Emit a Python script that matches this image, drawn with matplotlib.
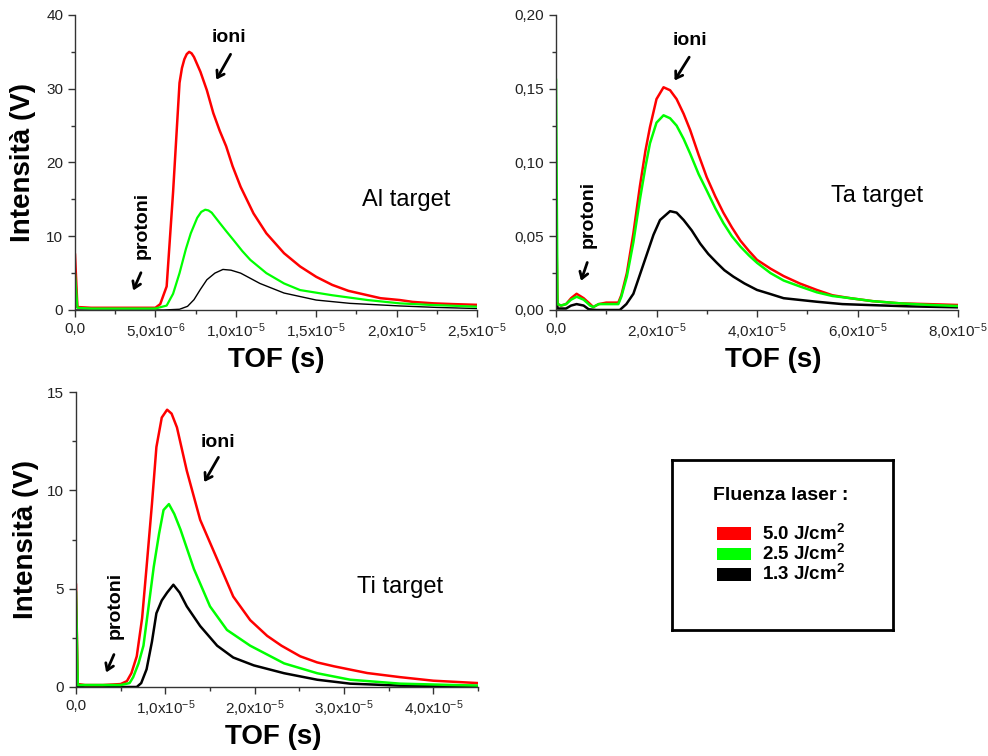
import numpy as np
import matplotlib
matplotlib.use('Agg')
import matplotlib.pyplot as plt
from matplotlib.patches import Rectangle

plt.rcParams['font.family'] = ['Liberation Sans', 'DejaVu Sans']
plt.rcParams['mathtext.fontset'] = 'custom'
plt.rcParams['mathtext.rm'] = 'Liberation Sans'
plt.rcParams['mathtext.bf'] = 'Liberation Sans:bold'
plt.rcParams['mathtext.default'] = 'regular'

# tempi in microsecondi, intensità in V

# --- Al target ---
al_red_t = [0, 0.15, 1, 2, 3, 4, 5.0, 5.3, 5.7, 6.1, 6.5, 6.65, 6.8, 6.95, 7.1, 7.25, 7.4, 7.8, 8.2, 8.6, 9.0,
            9.4, 9.8, 10.3, 11.1, 11.9, 13.0, 14.0, 15.0, 16.0, 17.0, 18.2, 19.0, 20.2, 21.0, 22.3, 23.5, 25.0]
al_red_v = [7.5, 0.4, 0.3, 0.3, 0.3, 0.3, 0.3, 0.8, 3.2, 16, 30.8, 32.8, 34, 34.7, 35, 34.8, 34.3, 32.3, 29.8,
            26.7, 24.3, 22.2, 19.5, 16.7, 13.1, 10.4, 7.7, 5.9, 4.5, 3.4, 2.6, 2.0, 1.6, 1.35, 1.1, 0.9, 0.8, 0.7]
al_green_t = [0, 0.15, 1, 3, 5.0, 5.7, 6.1, 6.5, 6.9, 7.2, 7.6, 7.85, 8.1, 8.3, 8.5, 9.0, 9.4, 9.85, 10.4, 10.9,
              11.9, 13.0, 14.0, 16.0, 18.2, 20.2, 22.0, 25.0]
al_green_v = [5, 0.3, 0.2, 0.2, 0.2, 0.6, 2.2, 5, 8.3, 10.4, 12.5, 13.3, 13.6, 13.5, 13.2, 11.8, 10.7, 9.5, 8.0,
              6.8, 5.0, 3.6, 2.7, 2.0, 1.35, 0.9, 0.7, 0.45]
al_black_t = [0, 5.5, 6.5, 7.0, 7.4, 7.8, 8.2, 8.7, 9.2, 9.7, 10.3, 11.5, 13.0, 15.0, 17.1, 20.2, 22.5, 25.0]
al_black_v = [0, 0, 0.1, 0.5, 1.4, 2.8, 4.1, 5.0, 5.5, 5.4, 5.0, 3.6, 2.3, 1.35, 0.9, 0.55, 0.35, 0.2]

# --- Ta target ---
ta_t = [0, 0.3, 1, 2, 3, 4.1, 5.5, 6.8, 7.4, 8.5, 10, 12.4, 13.0, 14.1, 15.4, 16.7, 17.8, 18.7, 20.0, 21.4,
        22.7, 24.0, 25.4, 26.7, 28.4, 30.0, 31.7, 33.3, 35.0, 36.7, 38.4, 40.0, 42.7, 45.3, 48.5, 51.9,
        55, 58.6, 63, 68.5, 74, 80]
ta_red_v = [0.07, 0.004, 0.003, 0.004, 0.008, 0.011, 0.008, 0.004, 0.002, 0.004, 0.005, 0.005, 0.01, 0.025,
            0.052, 0.084, 0.108, 0.124, 0.143, 0.151, 0.149, 0.143, 0.133, 0.122, 0.105, 0.09, 0.077, 0.066,
            0.056, 0.047, 0.040, 0.034, 0.028, 0.023, 0.018, 0.0136, 0.010, 0.008, 0.006, 0.0045, 0.004, 0.0034]
ta_green_v = [0.156, 0.004, 0.003, 0.004, 0.007, 0.009, 0.007, 0.003, 0.002, 0.004, 0.004, 0.004, 0.009, 0.0226,
              0.046, 0.075, 0.097, 0.113, 0.127, 0.132, 0.130, 0.125, 0.116, 0.106, 0.092, 0.081, 0.069, 0.059,
              0.050, 0.043, 0.037, 0.032, 0.025, 0.020, 0.016, 0.012, 0.0095, 0.008, 0.006, 0.0045, 0.0035, 0.0027]
ta_black_t = [0, 0.3, 2, 3, 4.1, 5.5, 6.5, 8, 12.7, 14.0, 15.4, 16.7, 18.1, 19.4, 20.7, 22.7, 24.0, 25.4, 27.0,
              28.7, 30.3, 32.0, 33.5, 35.3, 37.5, 40.0, 42.5, 45.3, 51.9, 57, 62, 70, 80]
ta_black_v = [0.02, 0.001, 0.001, 0.003, 0.004, 0.003, 0.0005, 0, 0, 0.004, 0.011, 0.024, 0.038, 0.051, 0.061,
              0.067, 0.066, 0.061, 0.054, 0.045, 0.038, 0.032, 0.027, 0.0226, 0.018, 0.0136, 0.011, 0.008,
              0.0056, 0.004, 0.0034, 0.0025, 0.0018]

# --- Ti target ---
ti_red_t = [0, 0.2, 1, 3, 5, 5.7, 6.2, 6.8, 7.4, 7.9, 8.5, 9.0, 9.6, 10.2, 10.7, 11.3, 12.4, 13.9, 15.8, 17.6,
            19.5, 21.4, 23.0, 25.1, 27.0, 28.9, 32.6, 36.3, 40.0, 45.0]
ti_red_v = [5.2, 0.15, 0.1, 0.1, 0.15, 0.3, 0.7, 1.56, 3.5, 6.1, 9.3, 12.2, 13.7, 14.1, 13.9, 13.2, 11.0, 8.5,
            6.5, 4.6, 3.4, 2.6, 2.1, 1.56, 1.25, 1.05, 0.71, 0.5, 0.32, 0.2]
ti_green_t = [0, 0.2, 1, 3, 5, 6.0, 6.4, 7.0, 7.55, 8.1, 8.7, 9.3, 9.8, 10.4, 11.0, 11.7, 13.2, 15.0, 16.9,
              19.5, 23.3, 27.0, 30.7, 36.3, 45.0]
ti_green_v = [4.8, 0.1, 0.1, 0.1, 0.1, 0.2, 0.5, 1.2, 2.1, 4.0, 6.1, 7.8, 9.0, 9.3, 8.8, 8.0, 6.0, 4.1, 2.9,
              2.1, 1.2, 0.7, 0.37, 0.17, 0.07]
ti_black_t = [0, 6.8, 7.3, 7.9, 8.5, 9.0, 9.6, 10.2, 10.9, 11.6, 12.4, 13.9, 15.8, 17.6, 19.9, 23.3, 27.0,
              30.7, 36.3, 45.0]
ti_black_v = [0, 0, 0.2, 0.9, 2.3, 3.75, 4.4, 4.8, 5.2, 4.8, 4.1, 3.1, 2.1, 1.5, 1.1, 0.7, 0.37, 0.17, 0.07, 0.05]

fluenze = ['5.0 J/cm$^{\\mathbf{2}}$', '2.5 J/cm$^{\\mathbf{2}}$', '1.3 J/cm$^{\\mathbf{2}}$']
colori = ['#ff0000', '#00ff00', '#000000']


def sci_label(v):
    if v == 0:
        return '0,0'
    e = int(np.floor(np.log10(v)))
    m = v / 10 ** e
    return ('%.1f' % m).replace('.', ',') + 'x10$^{%d}$' % e


def setup(ax, xmax, xmaj, xmin, ymax, ymaj, ymin, yfmt, ylab_x, xlab_x):
    ax.set_xlim(0, xmax)
    ax.set_ylim(0, ymax)
    for s in ['top', 'right']:
        ax.spines[s].set_visible(False)
    for s in ['left', 'bottom']:
        ax.spines[s].set_color('#333333')
        ax.spines[s].set_linewidth(1.0)
    xt = np.arange(0, xmax * 1.0001, xmaj)
    ax.set_xticks(xt)
    ax.set_xticklabels([sci_label(v) for v in xt])
    ax.set_xticks(np.arange(0, xmax * 1.0001, xmin), minor=True)
    yt = np.arange(0, ymax * 1.0001, ymaj)
    ax.set_yticks(yt)
    ax.set_yticklabels([yfmt(v) for v in yt])
    ax.set_yticks(np.arange(0, ymax * 1.0001, ymin), minor=True)
    ax.tick_params(which='major', direction='out', length=5, width=1, labelsize=11,
                   colors='#333333', labelcolor='#222222')
    ax.tick_params(which='minor', direction='out', length=3, width=1, colors='#333333')
    ax.set_xlabel('TOF (s)', fontsize=20, fontweight='bold')
    ax.xaxis.set_label_coords(xlab_x, -0.125)
    if ylab_x is not None:
        ax.set_ylabel('Intensità (V)', fontsize=20, fontweight='bold')
        ax.yaxis.set_label_coords(ylab_x, 0.5)


def arrow(ax, head, tail):
    ax.annotate('', xy=head, xytext=tail,
                arrowprops=dict(arrowstyle='->,head_length=0.45,head_width=0.3', lw=2, color='black'))


fig = plt.figure(figsize=(9.88, 7.56), dpi=100)

us = 1e-6

# Al
ax1 = fig.add_axes([75 / 988, 446 / 756, 402 / 988, 295 / 756])
ax1.plot(np.array(al_black_t) * us, al_black_v, color=colori[2], lw=1.0)
ax1.plot(np.array(al_red_t) * us, al_red_v, color=colori[0], lw=1.8)
ax1.plot(np.array(al_green_t) * us, al_green_v, color=colori[1], lw=1.6)
setup(ax1, 2.5e-5, 5e-6, 2.5e-6, 40, 10, 5, lambda v: '%d' % v, -0.097, 0.5)
ax1.text(9.6e-6, 36.9, 'ioni', fontsize=14, fontweight='bold', ha='center', va='center')
arrow(ax1, (8.7e-6, 30.9), (9.76e-6, 35))
ax1.text(4.17e-6, 11.5, 'protoni', fontsize=14, fontweight='bold', rotation=90, ha='center', va='center')
arrow(ax1, (3.55e-6, 2.3), (4.17e-6, 5.4))
ax1.text(2.06e-5, 14.9, 'Al target', fontsize=17, ha='center', va='center')

# Ta
ax2 = fig.add_axes([556 / 988, 446 / 756, 402 / 988, 295 / 756])
ax2.plot(np.array(ta_black_t) * us, ta_black_v, color=colori[2], lw=1.8)
ax2.plot(np.array(ta_t) * us, ta_red_v, color=colori[0], lw=1.8)
ax2.plot(np.array(ta_t) * us, ta_green_v, color=colori[1], lw=1.8)
setup(ax2, 8e-5, 2e-5, 1e-5, 0.2, 0.05, 0.025, lambda v: ('%.2f' % v).replace('.', ','), None, 0.54)
ax2.text(2.67e-5, 0.183, 'ioni', fontsize=14, fontweight='bold', ha='center', va='center')
arrow(ax2, (2.33e-5, 0.154), (2.68e-5, 0.173))
ax2.text(6.4e-6, 0.065, 'protoni', fontsize=14, fontweight='bold', rotation=90, ha='center', va='center')
arrow(ax2, (4.8e-6, 0.018), (6.4e-6, 0.034))
ax2.text(6.39e-5, 0.077, 'Ta target', fontsize=17, ha='center', va='center')

# Ti
ax3 = fig.add_axes([76 / 988, 69 / 756, 402 / 988, 295 / 756])
ax3.plot(np.array(ti_black_t) * us, ti_black_v, color=colori[2], lw=1.8)
ax3.plot(np.array(ti_red_t) * us, ti_red_v, color=colori[0], lw=1.8)
ax3.plot(np.array(ti_green_t) * us, ti_green_v, color=colori[1], lw=1.8)
setup(ax3, 4.5e-5, 1e-5, 5e-6, 15, 5, 2.5, lambda v: '%d' % v, -0.092, 0.49)
ax3.set_xticks(np.arange(0, 4.0001e-5, 1e-5))
ax3.set_xticklabels([sci_label(v) for v in np.arange(0, 4.0001e-5, 1e-5)])
ax3.text(1.59e-5, 12.45, 'ioni', fontsize=14, fontweight='bold', ha='center', va='center')
arrow(ax3, (1.42e-5, 10.3), (1.61e-5, 11.8))
ax3.text(4.37e-6, 4.17, 'protoni', fontsize=14, fontweight='bold', rotation=90, ha='center', va='center')
arrow(ax3, (3.25e-6, 0.61), (4.37e-6, 1.78))
ax3.text(3.63e-5, 5.08, 'Ti target', fontsize=17, ha='center', va='center')

# legenda
axl = fig.add_axes([672 / 988, 126 / 756, 221 / 988, 170 / 756])
axl.set_xlim(0, 1)
axl.set_ylim(0, 1)
axl.set_xticks([])
axl.set_yticks([])
for s in axl.spines.values():
    s.set_linewidth(2)
    s.set_color('black')
axl.text(0.493, 0.794, 'Fluenza laser :', fontsize=14, fontweight='bold', ha='center', va='center')
for i, (lab, c) in enumerate(zip(fluenze, colori)):
    yc = 0.565 - i * 0.118
    axl.add_patch(Rectangle((0.204, yc - 0.038), 0.153, 0.076, facecolor=c, edgecolor='none'))
    axl.text(0.407, yc, lab, fontsize=13.5, fontweight='bold', ha='left', va='center')

fig.savefig('out.png', dpi=100)
